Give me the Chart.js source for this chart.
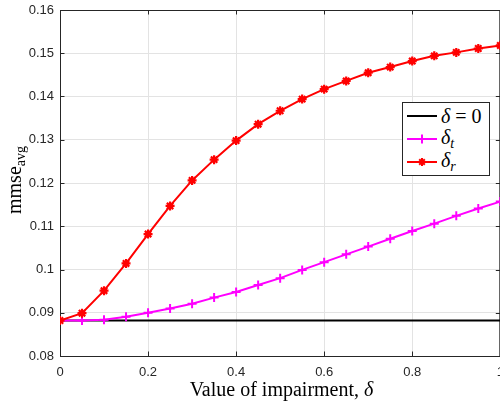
<!DOCTYPE html>
<html>
<head>
<meta charset="utf-8">
<script src="https://cdn.jsdelivr.net/npm/chart.js@4.4.1/dist/chart.umd.min.js"></script>
<style>
  html, body { margin: 0; padding: 0; background: #fff; }
  #wrap { position: relative; width: 500px; height: 405px; overflow: hidden; }
  #c { position: absolute; left: 0; top: 0; }
  .ytitle { position: absolute; left: 16px; top: 180px; transform: translate(-50%, -50%) rotate(-90deg);
    font-family: "Liberation Serif", "DejaVu Serif", serif; font-size: 20px; color: #000; white-space: nowrap; }
  .ytitle sub { font-size: 14px; vertical-align: -4px; }
  .xtitle { position: absolute; left: 0; width: 563px; text-align: center; top: 378px;
    font-family: "Liberation Serif", "DejaVu Serif", serif; font-size: 20px; color: #000; white-space: nowrap; }
  .legend { position: absolute; left: 402px; top: 102px; width: 86px; height: 72px; border: 1px solid #262626;
    background: #fff; font-family: "Liberation Serif", "DejaVu Serif", serif; font-size: 20px; color: #000; }
  .row { position: absolute; left: 4px; height: 22px; display: flex; align-items: center; }
  .row svg { width: 30px; height: 14px; margin-right: 4px; }
  .row i sub { font-size: 14px; vertical-align: -4px; }
</style>
</head>
<body>
<div id="wrap">
  <canvas id="c" width="507" height="405"></canvas>
  <div class="ytitle">mmse<sub>avg</sub></div>
  <div class="xtitle">Value of impairment, <i>δ</i></div>
  <div class="legend">
    <div class="row" style="top:2px"><svg viewBox="0 0 30 14"><line x1="0" y1="7" x2="30" y2="7" stroke="#000" stroke-width="2"/></svg><span><i>δ</i> = 0</span></div>
    <div class="row" style="top:25px"><svg viewBox="0 0 30 14"><line x1="0" y1="7" x2="30" y2="7" stroke="#ff00ff" stroke-width="2"/><line x1="15" y1="2.5" x2="15" y2="11.5" stroke="#ff00ff" stroke-width="2"/><line x1="10.5" y1="7" x2="19.5" y2="7" stroke="#ff00ff" stroke-width="2"/></svg><span><i>δ<sub>t</sub></i></span></div>
    <div class="row" style="top:48px"><svg viewBox="0 0 30 14"><line x1="0" y1="7" x2="30" y2="7" stroke="#ff0000" stroke-width="2"/><g stroke="#ff0000" stroke-width="2"><line x1="15" y1="3" x2="15" y2="11"/><line x1="11" y1="7" x2="19" y2="7"/><line x1="12.2" y1="4.2" x2="17.8" y2="9.8"/><line x1="12.2" y1="9.8" x2="17.8" y2="4.2"/></g></svg><span><i>δ<sub>r</sub></i></span></div>
  </div>
</div>
<script>
// ---- data ----
const deltaValues = [0, 0.05, 0.1, 0.15, 0.2, 0.25, 0.3, 0.35, 0.4, 0.45, 0.5,
                     0.55, 0.6, 0.65, 0.7, 0.75, 0.8, 0.85, 0.9, 0.95, 1];
const baselineX = [0, 1];
const baselineY = [0.0882, 0.0882];
const deltaT = [0.0882, 0.0882, 0.0884, 0.0891, 0.0900, 0.0910, 0.0921, 0.0935, 0.0948, 0.0964, 0.0980,
                0.0999, 0.1017, 0.1035, 0.1053, 0.1071, 0.1089, 0.1106, 0.1124, 0.1141, 0.1157];
const deltaR = [0.0882, 0.0899, 0.0951, 0.1014, 0.1082, 0.1147, 0.1206, 0.1254, 0.1298, 0.1336, 0.1367,
                0.1394, 0.1417, 0.1436, 0.1455, 0.1468, 0.1482, 0.1494, 0.1502, 0.1511, 0.1518];
const seriesNames = ['δ = 0', 'δ_t', 'δ_r'];
const xTickLabels = ['0', '0.2', '0.4', '0.6', '0.8', '1'];
const yTickLabels = ['0.08', '0.09', '0.1', '0.11', '0.12', '0.13', '0.14', '0.15', '0.16'];

const toPts = (xs, ys) => xs.map((x, i) => ({ x: x, y: ys[i] }));
const axisColor = '#262626';
const gridColor = '#e3e3e3';

const boxTicks = {
  id: 'boxTicks',
  beforeDatasetsDraw(chart) {
    const { ctx, chartArea: a, scales } = chart;
    ctx.save();
    ctx.strokeStyle = axisColor;
    ctx.lineWidth = 1;
    ctx.beginPath();
    ctx.moveTo(a.left, a.top + 0.5); ctx.lineTo(a.right, a.top + 0.5);
    ctx.moveTo(a.right - 0.5, a.top); ctx.lineTo(a.right - 0.5, a.bottom);
    const tl = 4.5;
    scales.x.ticks.forEach(t => {
      const px = Math.round(scales.x.getPixelForValue(t.value)) + 0.5;
      ctx.moveTo(px, a.bottom); ctx.lineTo(px, a.bottom - tl);
      ctx.moveTo(px, a.top); ctx.lineTo(px, a.top + tl);
    });
    scales.y.ticks.forEach(t => {
      const py = Math.round(scales.y.getPixelForValue(t.value)) + 0.5;
      ctx.moveTo(a.left, py); ctx.lineTo(a.left + tl, py);
      ctx.moveTo(a.right, py); ctx.lineTo(a.right - tl, py);
    });
    ctx.stroke();
    ctx.restore();
  }
};

new Chart(document.getElementById('c'), {
  type: 'line',
  data: {
    datasets: [
      { label: seriesNames[0], data: toPts(baselineX, baselineY), borderColor: '#000000', backgroundColor: '#000000',
        borderWidth: 2, pointRadius: 0, order: 2 },
      { label: seriesNames[1], data: toPts(deltaValues, deltaT), borderColor: '#ff00ff', backgroundColor: '#ff00ff',
        borderWidth: 2, pointStyle: 'cross', pointRadius: 4.5, pointBorderWidth: 2, order: 1 },
      { label: seriesNames[2], data: toPts(deltaValues, deltaR), borderColor: '#ff0000', backgroundColor: '#ff0000',
        borderWidth: 2, pointStyle: 'star', pointRadius: 4.5, pointBorderWidth: 2.2, order: 0 }
    ]
  },
  options: {
    responsive: false,
    animation: false,
    devicePixelRatio: 1,
    layout: { padding: { top: 10, right: 0, left: 0, bottom: 0 } },
    plugins: { legend: { display: false }, tooltip: { enabled: false } },
    elements: { line: { tension: 0 } },
    scales: {
      x: {
        type: 'linear', min: 0, max: 1,
        afterBuildTicks(s) { s.ticks = xTickLabels.map(v => ({ value: parseFloat(v) })); },
        ticks: { callback: (v) => xTickLabels.find(l => Math.abs(parseFloat(l) - v) < 1e-9) || '',
          color: axisColor, font: { family: '"Liberation Sans", Arial, sans-serif', size: 13 }, padding: 9, maxRotation: 0, autoSkip: false },
        grid: { color: gridColor, drawTicks: false, tickLength: 0 },
        border: { display: true, color: axisColor, width: 1 },
        afterFit(s) { s.height = 49; s.paddingLeft = 0; s.paddingRight = 0; }
      },
      y: {
        type: 'linear', min: 0.08, max: 0.16,
        afterBuildTicks(s) { s.ticks = yTickLabels.map(v => ({ value: parseFloat(v) })); },
        ticks: { callback: (v) => yTickLabels.find(l => Math.abs(parseFloat(l) - v) < 1e-9) || '',
          color: axisColor, font: { family: '"Liberation Sans", Arial, sans-serif', size: 13 }, padding: 6, autoSkip: false },
        grid: { color: gridColor, drawTicks: false, tickLength: 0 },
        border: { display: true, color: axisColor, width: 1 },
        afterFit(s) { s.width = 60; s.paddingTop = 0; s.paddingBottom = 0; }
      }
    }
  },
  plugins: [boxTicks]
});
</script>
</body>
</html>
